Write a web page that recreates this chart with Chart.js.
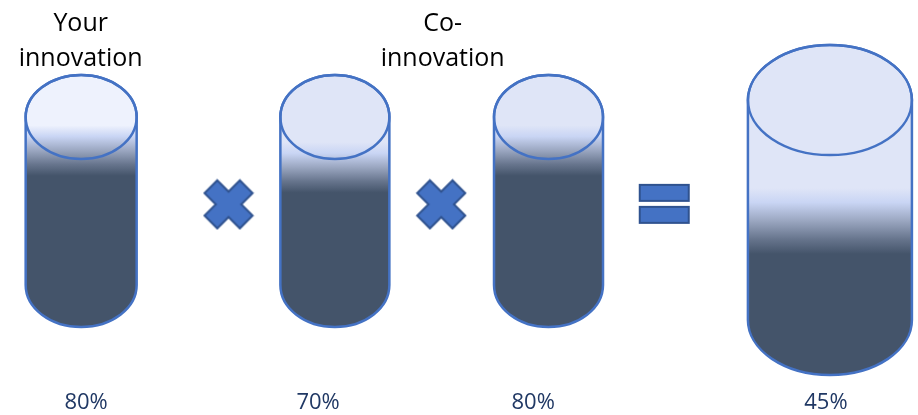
<!DOCTYPE html>
<html>
<head>
<meta charset="utf-8">
<script src="https://cdn.jsdelivr.net/npm/chart.js"></script>
<style>
  body { margin: 0; background: #fff; }
  #wrap { width: 918px; height: 415px; position: relative; }
</style>
</head>
<body>
<div id="wrap"><canvas id="myChart"></canvas></div>
<script>
// data
const stages = ['Your innovation', 'Co-innovation A', 'Co-innovation B', 'Overall'];
const stageRates = [80, 70, 80];      // each step
const overallRate = [45];             // product of the steps
const rateLabels = ['80%', '70%', '80%', '45%'];
const headings = [['Your', 'innovation'], ['Co-', 'innovation']];
const operators = ['x', 'x', '='];

// layout / style
const slotX = [77, 333.5, 549.5, 834];
const radiusX = [55.5, 54.5, 54.5, 82];
const radiusY = [42, 42, 42, 55];
const capColor = ['#EEF2FD', '#DFE5F7', '#DFE5F7', '#DFE5F7'];
const labelX = [82, 316.5, 534, 830];
const headingX = [76.5, 442.5];
const opX = [226, 441, 666.5];
const opLevel = 48;

const LINE = '#4472C4';
const DARK = '#44546A';

// x / = symbols as small canvases, used as point styles
function makeOperator(sym) {
  const c = document.createElement('canvas');
  // size first: setting width later resets the context
  if (sym === '=') { c.width = 53; c.height = 43; } else { c.width = 52; c.height = 52; }
  const g = c.getContext('2d');
  g.fillStyle = LINE;
  g.strokeStyle = '#2F528F';
  g.lineWidth = 2;
  g.lineJoin = 'miter';
  g.beginPath();
  if (sym === '=') {
    g.rect(2, 2, 49, 16);
    g.rect(2, 24, 49, 16);
  } else {
    const w = 9, L = 25;
    const pts = [[-w,-L],[w,-L],[w,-w],[L,-w],[L,w],[w,w],[w,L],[-w,L],[-w,w],[-L,w],[-L,-w],[-w,-w]];
    g.translate(26, 26);
    g.rotate(Math.PI / 4);
    pts.forEach(function(p, i) { i ? g.lineTo(p[0], p[1]) : g.moveTo(p[0], p[1]); });
    g.closePath();
  }
  g.fill();
  g.stroke();
  return c;
}

function drawCylinder(ctx, cx, top, bottom, level, rx, ry, light) {
  const band = (bottom - top) * 0.15;
  const grad = ctx.createLinearGradient(0, level - band, 0, level + band);
  grad.addColorStop(0, light);
  grad.addColorStop(0.22, '#C9D5F4');
  grad.addColorStop(0.5, '#9AA6C0');
  grad.addColorStop(0.78, '#66748C');
  grad.addColorStop(1, DARK);

  ctx.save();
  ctx.beginPath();
  ctx.moveTo(cx - rx, top);
  ctx.lineTo(cx - rx, bottom);
  ctx.ellipse(cx, bottom, rx, ry, 0, Math.PI, 0, true);
  ctx.lineTo(cx + rx, top);
  ctx.ellipse(cx, top, rx, ry, 0, 0, Math.PI, true);
  ctx.closePath();
  ctx.fillStyle = grad;
  ctx.fill();
  ctx.strokeStyle = LINE;
  ctx.lineWidth = 2.5;
  ctx.stroke();
  // top lid
  ctx.beginPath();
  ctx.ellipse(cx, top, rx, ry, 0, 0, Math.PI * 2);
  ctx.stroke();
  ctx.restore();
}

const cylinderPlugin = {
  id: 'cylinders',
  afterDatasetsDraw(chart) {
    const ctx = chart.ctx;
    const xs = chart.scales.x;
    let idx = 0;
    chart.data.datasets.forEach(function(ds, d) {
      if (ds.type === 'scatter') return;
      const meta = chart.getDatasetMeta(d);
      const ys = chart.scales[meta.yAxisID];
      meta.data.forEach(function(bar) {
        drawCylinder(ctx, bar.x, ys.getPixelForValue(100), ys.getPixelForValue(0), bar.y,
          radiusX[idx], radiusY[idx], capColor[idx]);
        idx++;
      });
    });

    ctx.save();
    // percentages under the cylinders
    ctx.font = '22px "Open Sans"';
    ctx.fillStyle = '#203864';
    ctx.textAlign = 'center';
    ctx.textBaseline = 'alphabetic';
    rateLabels.forEach(function(t, i) {
      ctx.fillText(t, xs.getPixelForValue(labelX[i]), chart.height - 6);
    });
    // headings
    ctx.font = '25px "Open Sans"';
    ctx.fillStyle = '#000';
    headings.forEach(function(lines, i) {
      ctx.fillText(lines[0], xs.getPixelForValue(headingX[i]), 31);
      ctx.fillText(lines[1], xs.getPixelForValue(headingX[i]), 66);
    });
    ctx.restore();
  }
};

new Chart(document.getElementById('myChart'), {
  type: 'bar',
  data: {
    labels: stages,
    datasets: [
      {
        label: 'Step',
        data: stageRates.map(function(v, i) { return { x: slotX[i], y: v }; }),
        yAxisID: 'y',
        grouped: false,
        backgroundColor: 'rgba(0,0,0,0)',
        borderWidth: 0
      },
      {
        label: 'Overall',
        data: overallRate.map(function(v, i) { return { x: slotX[stageRates.length + i], y: v }; }),
        yAxisID: 'y2',
        grouped: false,
        backgroundColor: 'rgba(0,0,0,0)',
        borderWidth: 0
      },
      {
        type: 'scatter',
        label: 'Operators',
        data: operators.map(function(o, i) { return { x: opX[i], y: opLevel }; }),
        yAxisID: 'y',
        pointStyle: operators.map(makeOperator)
      }
    ]
  },
  options: {
    responsive: true,
    maintainAspectRatio: false,
    animation: false,
    events: [],
    layout: { padding: { top: 117, bottom: 130, left: 0, right: 0 } },
    plugins: { legend: { display: false }, tooltip: { enabled: false } },
    scales: {
      x: { type: 'linear', min: 0, max: 918, offset: false, display: false },
      y: { min: 0, max: 100, display: false },
      // taller cylinder: 0..100 spans a longer body than the y axis
      y2: { min: 15.9, max: 92.3, display: false }
    }
  },
  plugins: [cylinderPlugin]
});
</script>
</body>
</html>
